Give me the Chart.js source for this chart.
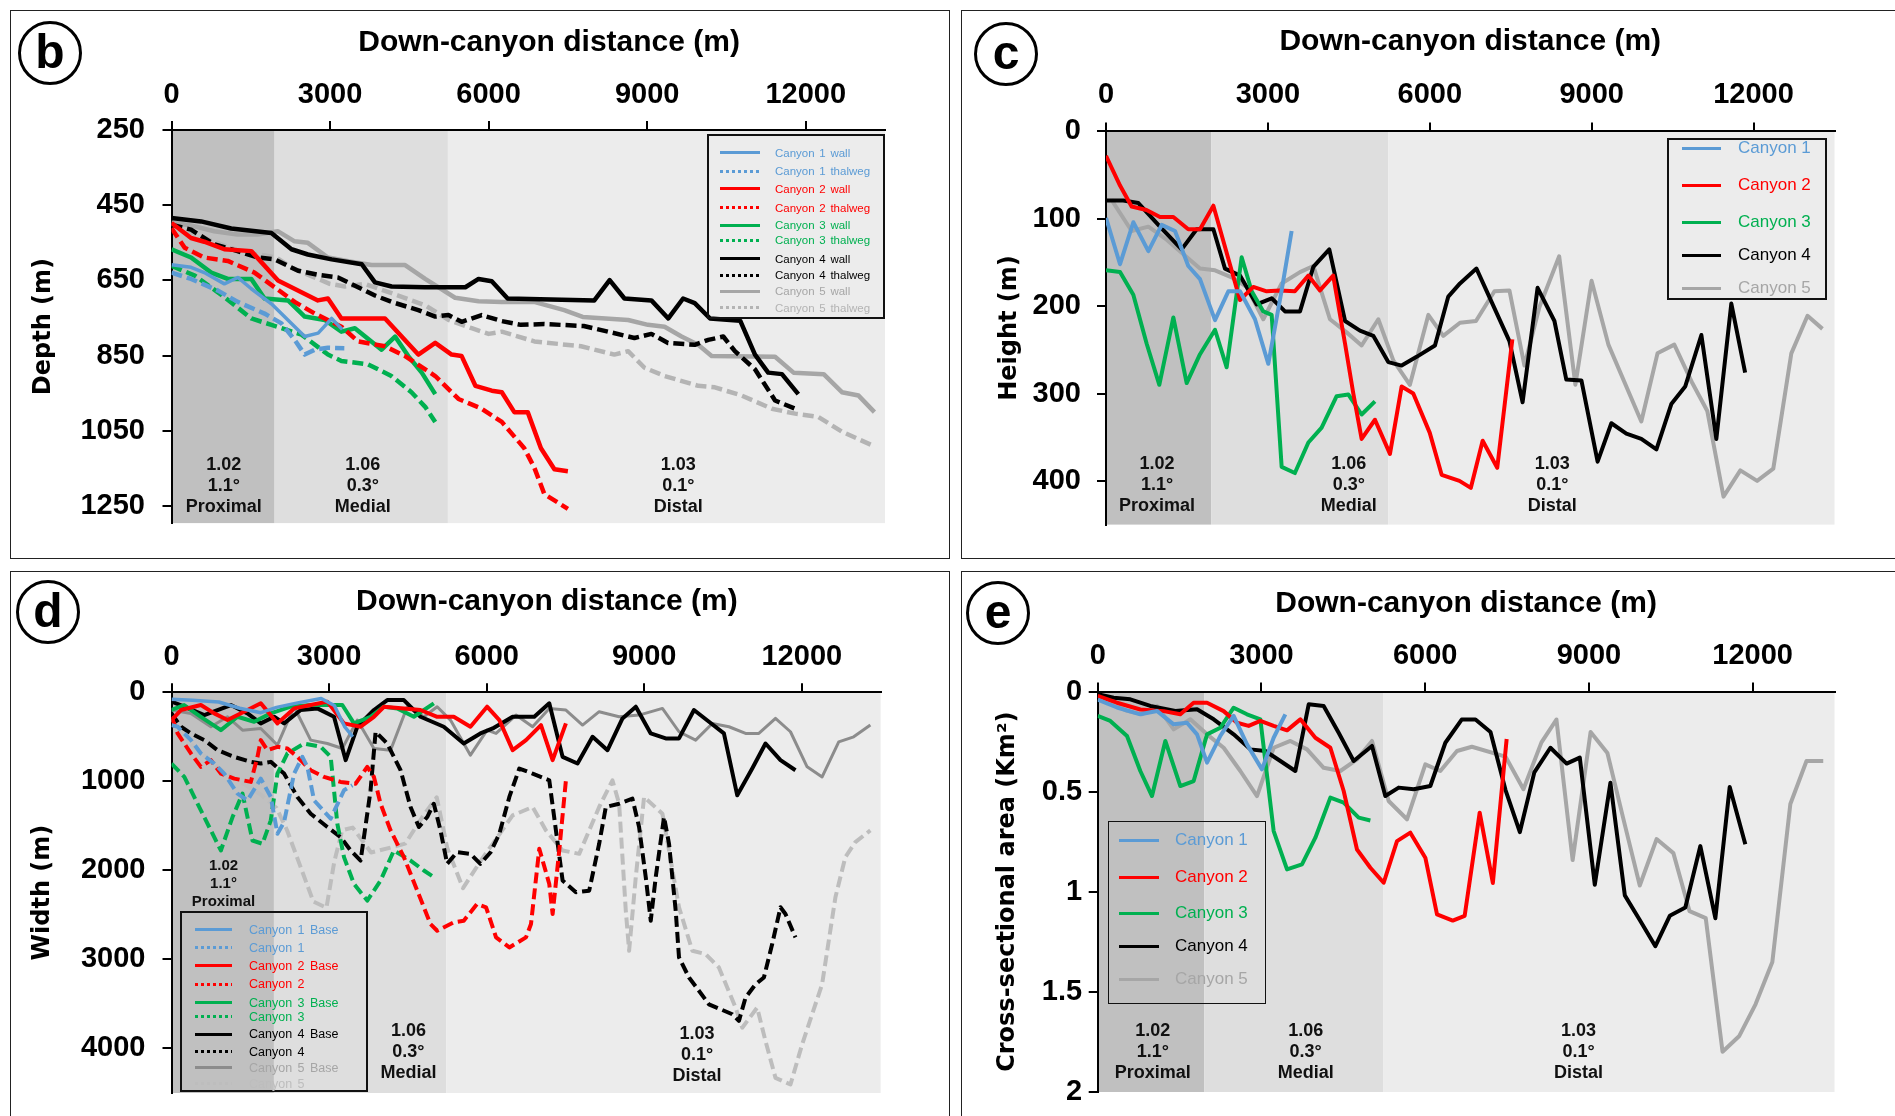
<!DOCTYPE html>
<html>
<head>
<meta charset="UTF-8">
<title>Canyon profiles</title>
<script src="https://cdn.jsdelivr.net/npm/chart.js"></script>
<style>
	html, body { margin: 0; padding: 0; background: #fff; overflow: hidden; }
	body { width: 1895px; height: 1116px; position: relative; }
	canvas { position: absolute; }
	.frame { position: absolute; border: 1.5px solid #222; box-sizing: border-box; pointer-events: none; }
	.letter { position: absolute; width: 64px; height: 64px; border: 3px solid #000; border-radius: 50%; box-sizing: border-box;
		font: bold 48px "Liberation Sans", Arial, sans-serif; text-align: center; line-height: 56px; background: #fff; }
	.legend { position: absolute; border: 2px solid #111; box-sizing: border-box; font-family: "Liberation Sans", Arial, sans-serif; }
	.legend .row { position: absolute; left: 0; right: 0; height: 0; }
	.legend .smp { position: absolute; height: 3px; margin-top: -1.5px; }
	.legend .txt { position: absolute; white-space: nowrap; transform: translateY(-50%); }
</style>
</head>
<body>

<div class="frame" style="left:10px; top:10px; width:940px; height:549px;"></div>
<div class="frame" style="left:961px; top:10px; width:960px; height:549px;"></div>
<div class="frame" style="left:10px; top:571px; width:940px; height:600px;"></div>
<div class="frame" style="left:961px; top:571px; width:960px; height:600px;"></div>

<canvas id="chartB" width="939" height="548" style="left:10px; top:10px;"></canvas>
<canvas id="chartC" width="940" height="548" style="left:962px; top:10px;"></canvas>
<canvas id="chartD" width="939" height="560" style="left:10px; top:571px;"></canvas>
<canvas id="chartE" width="940" height="560" style="left:962px; top:571px;"></canvas>

<div class="letter" style="left:18px; top:21px;">b</div>
<div class="letter" style="left:974px; top:22px;">c</div>
<div class="letter" style="left:16px; top:580px;">d</div>
<div class="letter" style="left:966px; top:581px;">e</div>

<script>
	// 공통 축 / 구간
	const xTicks = [0, 3000, 6000, 9000, 12000];
	const xMax = 13500;
	const zoneEdges = [0, 1950, 5230, 13500];
	const zoneRatio = ['1.02', '1.06', '1.03'];
	const zoneSlope = ['1.1°', '0.3°', '0.1°'];
	const zoneNames = ['Proximal', 'Medial', 'Distal'];

	const depthTicks = [250, 450, 650, 850, 1050, 1250];
	const heightTicks = [0, 100, 200, 300, 400];
	const widthTicks = [0, 1000, 2000, 3000, 4000];
	const areaTicks = [0, 0.5, 1, 1.5, 2];

	// (b) depth : [distance, depth]
	const bWall1 = [[0,608],[370,615],[620,629],[1000,659],[1255,642],[1510,672],[1890,712],[2265,764],[2520,799],[2775,790],[3030,751],[3230,780]];
	const bThal1 = [[0,629],[370,646],[880,677],[1255,707],[1760,738],[2080,764],[2330,808],[2520,847],[2710,834],[2960,829],[3270,830]];
	const bWall2 = [[0,497],[370,537],[620,547],[1000,567],[1510,572],[2015,650],[2770,703],[2960,698],[3215,751],[4040,751],[4670,847],[4990,816],[5300,847],[5490,851],[5750,930],[6060,943],[6250,947],[6486,1000],[6740,1000],[6990,1096],[7245,1152],[7500,1157]];
	const bThal2 = [[0,511],[250,563],[620,589],[1065,598],[1570,629],[1950,668],[2330,707],[2710,738],[3215,773],[3530,812],[4040,825],[4420,851],[4990,904],[5430,965],[5870,991],[6250,1026],[6675,1096],[6866,1148],[7055,1218],[7500,1257]];
	const bWall3 = [[0,567],[370,589],[750,629],[1065,646],[1510,646],[1760,698],[2205,703],[2520,746],[2900,755],[3215,786],[3470,777],[3975,834],[4230,799],[4480,851],[4735,895],[4990,952]];
	const bThal3 = [[0,611],[440,637],[1000,694],[1510,751],[1890,768],[2460,794],[2960,847],[3215,864],[3720,873],[4160,904],[4540,947],[4800,986],[4990,1026]];
	const bWall4 = [[0,484],[560,493],[1130,512],[1890,524],[2270,567],[2580,581],[3030,594],[3600,607],[3850,655],[4165,666],[4800,668],[5560,668],[5810,646],[6060,652],[6360,698],[8000,703],[8290,649],[8570,698],[9080,703],[9400,751],[9680,698],[9900,710],[10190,751],[10760,757],[11040,847],[11290,895],[11550,899],[11860,952]];
	const bThal4 = [[0,502],[370,515],[810,554],[1250,572],[1630,589],[1950,594],[2395,624],[2770,635],[3150,642],[3530,668],[3850,690],[4165,707],[4670,729],[4990,746],[5240,742],[5490,760],[5870,742],[6250,758],[6610,768],[7055,766],[7800,771],[8255,786],[8760,803],[9080,792],[9395,816],[9900,821],[10155,808],[10440,799],[10660,838],[11040,886],[11420,969],[11800,991]];
	const bWall5 = [[0,496],[370,504],[810,519],[1250,528],[1630,528],[2010,519],[2330,546],[2580,550],[2960,589],[3400,600],[3785,609],[4420,609],[4800,646],[5365,696],[5810,705],[6250,707],[6860,707],[7430,729],[7780,747],[8640,755],[9015,768],[9330,773],[9650,799],[9965,821],[10220,851],[11420,853],[11770,895],[12340,899],[12685,947],[13000,956],[13300,1000]];
	const bThal5 = [[0,500],[620,537],[1290,572],[1985,589],[2270,616],[2995,659],[3280,666],[3660,659],[4290,690],[4800,716],[5240,755],[5680,777],[6000,792],[6250,786],[6866,812],[7750,825],[8380,847],[8640,838],[8950,882],[9330,904],[9965,930],[10280,934],[10790,956],[11360,991],[11800,1004],[12240,1013],[12685,1052],[13270,1089]];

	// (c) height : [distance, height]
	const cCanyon1 = [[0,99],[260,152],[506,104],[785,137],[1032,107],[1279,114],[1525,154],[1742,169],[2020,216],[2267,183],[2483,183],[2761,215],[3008,266],[3255,182],[3440,114]];
	const cCanyon2 = [[0,28],[260,62],[475,86],[750,90],[1000,98],[1248,98],[1525,112],[1742,112],[1990,85],[2483,193],[2730,178],[2977,183],[3224,182],[3500,183],[3750,165],[3965,182],[4210,165],[4430,243],[4583,300],[4737,352],[4984,330],[5262,369],[5478,292],[5694,300],[6000,345],[6220,393],[6550,400],[6760,408],[6980,354],[7250,385],[7530,238]];
	const cCanyon3 = [[0,159],[260,161],[506,187],[754,243],[988,290],[1248,213],[1495,288],[1742,255],[2020,227],[2236,270],[2514,144],[2700,183],[2915,206],[3070,210],[3255,384],[3500,391],[3750,356],[3996,339],[4274,303],[4490,301],[4737,324],[4984,309]];
	const cCanyon4 = [[0,79],[321,79],[600,82],[1000,109],[1402,135],[1680,112],[1990,112],[2205,157],[2483,165],[2792,198],[3070,191],[3317,206],[3595,206],[3842,155],[4138,135],[4430,217],[4706,228],[4953,234],[5231,264],[5478,268],[5756,258],[6096,245],[6343,189],[6560,174],[6865,157],[7476,240],[7720,310],[7998,179],[8310,217],[8530,284],[8810,285],[9110,378],[9365,334],[9643,346],[9920,352],[10200,364],[10476,312],[10733,292],[11033,233],[11310,352],[11588,197],[11844,276]];
	const cCanyon5 = [[100,78],[475,114],[785,109],[1124,124],[1402,139],[1742,157],[2020,159],[2329,167],[2606,178],[2915,215],[3255,174],[3595,161],[3842,154],[4150,215],[4459,230],[4737,245],[5046,215],[5324,262],[5632,290],[5973,210],[6250,234],[6560,219],[6856,217],[7198,183],[7476,182],[7754,268],[8032,201],[8398,143],[8698,290],[8998,171],[9310,244],[9920,332],[10220,254],[10531,244],[10865,288],[11143,320],[11443,418],[11755,388],[12066,400],[12366,386],[12700,254],[13000,211],[13277,226]];

	// (d) width : [distance, width]
	const dBase1 = [[0,80],[400,90],[900,110],[1300,180],[1700,230],[2000,170],[2400,120],[2850,70],[3100,150],[3300,390],[3450,500]];
	const dTop1 = [[0,370],[117,388],[370,538],[560,688],[814,801],[1004,914],[1257,1139],[1447,1214],[1700,970],[1890,1176],[2017,1589],[2143,1458],[2334,914],[2492,726],[2587,838],[2714,1214],[3031,1420],[3284,1101],[3443,1045]];
	const dBase2 = [[0,313],[180,200],[560,144],[814,238],[1067,313],[1447,200],[1700,125],[2017,350],[2334,182],[2650,144],[2967,106],[3284,350],[3600,388],[3854,276],[4044,163],[4425,182],[4741,200],[5058,276],[5374,276],[5691,388],[6008,163],[6242,313],[6495,651],[6749,538],[7034,369],[7256,763],[7509,350]];
	const dTop2 = [[0,275],[117,463],[370,688],[560,838],[750,763],[940,914],[1194,970],[1510,1007],[1637,726],[1700,538],[1827,651],[2017,613],[2207,632],[2397,726],[2650,876],[2904,951],[3220,1007],[3505,1027],[3727,838],[3854,951],[3980,1252],[4171,1552],[4425,1852],[4678,2227],[4931,2603],[5058,2678],[5374,2584],[5564,2565],[5818,2378],[5989,2415],[6179,2753],[6432,2866],[6749,2753],[6844,2603],[7002,1758],[7192,2153],[7256,2490],[7382,1777],[7509,989]];
	const dBase3 = [[0,200],[240,144],[560,276],[940,426],[1257,276],[1574,332],[1890,238],[2270,163],[2650,144],[3031,144],[3252,144],[3474,350],[3790,276],[4044,163],[4298,182],[4614,276],[4994,125]];
	const dTop3 = [[0,801],[244,951],[560,1327],[940,1777],[1162,1402],[1352,1139],[1542,1665],[1732,1702],[1890,1439],[2017,914],[2207,688],[2524,576],[2840,613],[3031,726],[3157,1477],[3284,1852],[3474,2153],[3727,2340],[3980,2115],[4234,1777],[4551,1890],[4805,2002],[4994,2077]];
	const dBase4 = [[0,106],[244,163],[624,257],[1130,144],[1447,238],[1700,350],[1954,276],[2143,350],[2460,200],[2777,182],[3094,276],[3316,763],[3537,388],[3854,200],[4107,88],[4424,88],[4741,276],[5184,388],[5564,576],[5881,463],[6115,407],[6495,276],[6907,276],[7192,125],[7446,726],[7730,801],[8016,501],[8301,651],[8586,294],[8840,163],[9124,463],[9409,519],[9662,519],[9947,200],[10233,332],[10517,463],[10771,1158],[11056,857],[11309,576],[11594,763],[11879,876]];
	const dTop4 = [[0,238],[180,388],[370,463],[624,538],[877,651],[1194,726],[1510,782],[1700,801],[1890,782],[2143,914],[2397,1176],[2650,1364],[2967,1514],[3220,1627],[3410,1777],[3600,1890],[3664,1627],[3790,1101],[3886,444],[4107,576],[4361,876],[4551,1289],[4710,1514],[4868,1402],[4994,1252],[5121,1552],[5248,1927],[5438,1796],[5691,1815],[5881,1927],[6071,1800],[6242,1589],[6432,1176],[6622,857],[6875,914],[7192,989],[7319,1552],[7446,2115],[7699,2246],[7952,2228],[8142,1702],[8269,1289],[8522,1252],[8775,1195],[8902,1514],[9029,2077],[9124,2565],[9219,2077],[9377,1402],[9472,1702],[9599,2453],[9662,2978],[9852,3203],[10232,3504],[10676,3616],[10802,3691],[10929,3429],[11119,3279],[11278,3203],[11436,2828],[11594,2415],[11689,2490],[11879,2753]];
	const dBase5 = [[0,200],[370,238],[750,388],[1067,276],[1352,426],[1700,407],[2017,594],[2334,163],[2650,538],[2967,576],[3252,632],[3537,313],[3854,632],[4171,651],[4488,163],[4805,276],[5058,163],[5311,313],[5691,707],[6008,426],[6179,463],[6559,257],[6875,388],[7192,182],[7509,200],[7826,369],[8142,219],[8522,276],[8902,257],[9346,182],[9662,444],[9979,538],[10296,351],[10613,388],[10929,463],[11182,463],[11499,294],[11784,444],[12101,838],[12387,951],[12703,557],[12988,501],[13305,369]];
	const dTop5 = [[0,300],[400,600],[900,850],[1300,1000],[1700,1150],[2000,1300],[2200,1550],[2450,1950],[2700,2350],[2950,2420],[3100,1900],[3250,1550],[3450,1520],[3800,1800],[4200,1740],[4450,1700],[4800,1380],[5050,1180],[5250,1750],[5550,2200],[5880,1900],[6115,1702],[6495,1383],[6875,1289],[7129,1552],[7446,1777],[7762,1815],[8142,1289],[8395,989],[8522,1252],[8649,2453],[8712,2903],[8839,2077],[8997,1176],[9346,1364],[9472,1777],[9662,2415],[9916,2903],[10169,2941],[10422,3091],[10739,3541],[10866,3767],[11150,3541],[11309,3917],[11499,4330],[11784,4405],[12006,3954],[12386,3279],[12640,2302],[12829,1852],[13019,1683],[13305,1552]];

	// (e) cross-sectional area : [distance, km2]
	const eCanyon1 = [[0,0.04],[354,0.08],[781,0.114],[1086,0.097],[1392,0.164],[1636,0.156],[1820,0.214],[2003,0.355],[2247,0.222],[2491,0.122],[2735,0.264],[3010,0.389],[3224,0.231],[3438,0.114]];
	const eCanyon2 = [[0,0.022],[354,0.056],[781,0.09],[1209,0.098],[1514,0.114],[1758,0.056],[2003,0.056],[2308,0.098],[2552,0.156],[2766,0.172],[2980,0.147],[3224,0.172],[3469,0.194],[3713,0.139],[3988,0.231],[4263,0.281],[4507,0.497],[4751,0.789],[4996,0.88],[5240,0.955],[5484,0.747],[5728,0.705],[6003,0.83],[6217,1.113],[6505,1.144],[6724,1.12],[6999,0.605],[7240,0.956],[7493,0.237]];
	const eCanyon3 = [[0,0.122],[231,0.147],[537,0.222],[781,0.397],[995,0.522],[1239,0.247],[1514,0.472],[1758,0.447],[2003,0.214],[2247,0.181],[2491,0.081],[2735,0.114],[2980,0.139],[3224,0.697],[3469,0.888],[3743,0.863],[3988,0.73],[4263,0.53],[4507,0.555],[4782,0.63],[4996,0.644]];
	const eCanyon4 = [[0,0.014],[292,0.031],[598,0.039],[964,0.072],[1422,0.097],[1820,0.089],[2125,0.139],[2491,0.214],[2797,0.289],[3071,0.297],[3347,0.347],[3621,0.397],[3866,0.064],[4140,0.072],[4415,0.206],[4690,0.347],[5026,0.272],[5270,0.522],[5515,0.48],[5790,0.488],[6095,0.472],[6370,0.256],[6669,0.14],[6922,0.14],[7197,0.202],[7471,0.491],[7735,0.702],[8000,0.404],[8295,0.281],[8592,0.36],[8833,0.33],[9108,0.965],[9394,0.456],[9658,1.018],[9932,1.141],[10218,1.272],[10482,1.12],[10767,1.079],[11042,0.772],[11317,1.132],[11580,0.477],[11866,0.763]];
	const eCanyon5 = [[109,0.04],[537,0.097],[811,0.114],[1086,0.072],[1392,0.189],[1697,0.139],[2003,0.214],[2308,0.281],[2613,0.397],[2919,0.522],[3224,0.281],[3530,0.247],[3835,0.289],[4140,0.381],[4446,0.397],[4751,0.339],[5026,0.247],[5331,0.547],[5667,0.638],[6003,0.364],[6278,0.397],[6583,0.297],[6856,0.276],[7471,0.325],[7801,0.488],[8131,0.254],[8405,0.14],[8702,0.842],[9031,0.202],[9339,0.307],[9636,0.641],[9932,0.969],[10240,0.737],[10548,0.807],[10844,1.097],[11141,1.132],[11449,1.799],[11756,1.72],[12053,1.562],[12361,1.351],[12691,0.562],[12987,0.347],[13294,0.347]];

	// 스타일
	const FONT = '"Liberation Sans", Arial, sans-serif';
	const YFONT = '"DejaVu Sans", Verdana, sans-serif';
	const COL = { 1: '#5b9bd5', 2: '#ff0000', 3: '#00b050', 4: '#000000', 5: '#a6a6a6' };
	const zoneFill = ['#c0c0c0', '#dedede', '#ececec'];

	function series(label, pts, color, dashed, width) {
		return {
			label: label,
			data: pts.map(p => ({ x: p[0], y: p[1] })),
			borderColor: color,
			borderWidth: width,
			borderDash: dashed ? [11, 5] : [],
			borderCapStyle: 'butt',
			borderJoinStyle: 'round',
			pointRadius: 0,
			tension: 0,
			fill: false
		};
	}

	// 구간 배경 + 구간 라벨
	const zonePlugin = {
		id: 'zones',
		beforeDraw(chart, args, opts) {
			const { ctx, chartArea: a, scales: { x } } = chart;
			ctx.save();
			for (let i = 0; i < zoneNames.length; i++) {
				const x0 = x.getPixelForValue(zoneEdges[i]);
				const x1 = x.getPixelForValue(zoneEdges[i + 1]);
				ctx.fillStyle = zoneFill[i];
				ctx.fillRect(x0, a.top, x1 - x0, a.bottom - a.top);
			}
			ctx.restore();
		},
		afterDatasetsDraw(chart, args, opts) {
			const { ctx, chartArea: a, scales: { x } } = chart;
			ctx.save();
			ctx.fillStyle = '#111';
			ctx.textAlign = 'center';
			ctx.textBaseline = 'middle';
			opts.labels.forEach((lab, i) => {
				ctx.font = 'bold ' + (lab.size || 18) + 'px ' + FONT;
				const cx = x.getPixelForValue(lab.x);
				const lines = [zoneRatio[i], zoneSlope[i], zoneNames[i]];
				lines.forEach((t, j) => ctx.fillText(t, cx, a.bottom - lab.lift + j * (lab.gap || 21)));
			});
			ctx.restore();
		}
	};

	function makeChart(id, p) {
		return new Chart(document.getElementById(id), {
			type: 'line',
			data: { datasets: p.series },
			options: {
				responsive: false,
				animation: false,
				devicePixelRatio: 1,
				layout: { padding: { left: 0, top: 0, right: p.padR, bottom: p.padB } },
				plugins: {
					legend: { display: false },
					tooltip: { enabled: false },
					zones: { labels: p.zoneLabels }
				},
				scales: {
					x: {
						type: 'linear',
						position: 'top',
						min: 0,
						max: xMax,
						afterFit: s => { s.height = p.xH; },
						afterBuildTicks: s => { s.ticks = xTicks.map(v => ({ value: v })); },
						ticks: {
							padding: p.xTickPad, color: '#000', autoSkip: false, maxRotation: 0,
							font: { family: FONT, size: 29, weight: 'bold' },
							callback: v => String(v)
						},
						grid: { display: true, drawOnChartArea: false, drawTicks: true, tickLength: 9, color: '#000', lineWidth: 2 },
						border: { display: true, color: '#000', width: 2 },
						title: {
							display: true, text: p.xTitle, color: '#000',
							font: { family: FONT, size: 30, weight: 'bold' },
							padding: { top: p.xTitlePad, bottom: 0 }
						}
					},
					y: {
						type: 'linear',
						position: 'left',
						reverse: true,
						min: p.yMin,
						max: p.yMax,
						afterFit: s => { s.width = p.yW; },
						afterBuildTicks: s => { s.ticks = p.yTicks.map(v => ({ value: v })); },
						ticks: {
							padding: p.yTickPad, color: '#000', autoSkip: false,
							font: { family: FONT, size: 29, weight: 'bold' },
							callback: v => String(v)
						},
						grid: { display: true, drawOnChartArea: false, drawTicks: true, tickLength: 9, color: '#000', lineWidth: 2 },
						border: { display: true, color: '#000', width: 2 },
						title: {
							display: true, text: p.yTitle, color: '#000',
							font: { family: YFONT, size: 24, weight: 'bold' },
							padding: { top: p.yTitlePad, bottom: 0 }
						}
					}
				}
			},
			plugins: [zonePlugin]
		});
	}

	// 범례 (HTML)
	function makeLegend(L, sers) {
		const box = document.createElement('div');
		box.className = 'legend';
		Object.assign(box.style, { left: L.left + 'px', top: L.top + 'px', width: L.w + 'px', height: L.h + 'px', borderWidth: L.bw + 'px' });
		sers.forEach((s, i) => {
			const row = document.createElement('div');
			row.className = 'row';
			row.style.top = L.rows[i] + 'px';
			const smp = document.createElement('div');
			smp.className = 'smp';
			smp.style.left = L.s0 + 'px';
			smp.style.width = (L.s1 - L.s0) + 'px';
			const c = s.borderColor;
			smp.style.background = s.borderDash.length
				? 'repeating-linear-gradient(to right, ' + c + ' 0 3px, transparent 3px 6px)'
				: c;
			const txt = document.createElement('div');
			txt.className = 'txt';
			txt.style.left = L.tx + 'px';
			txt.style.top = '0px';
			txt.style.color = s.legendColor || c;
			txt.style.fontSize = L.fs + 'px';
			txt.style.wordSpacing = (L.ws || 0) + 'px';
			txt.textContent = s.label;
			row.appendChild(smp);
			row.appendChild(txt);
			box.appendChild(row);
		});
		document.body.appendChild(box);
	}

	const xTitleText = 'Down-canyon distance (m)';
	const shifted = '\u00a0\u00a0\u00a0\u00a0\u00a0' + xTitleText;

	// (b)
	const seriesB = [
		series('Canyon 1 wall', bWall1, COL[1], false, 3.5),
		series('Canyon 1 thalweg', bThal1, COL[1], true, 4.5),
		series('Canyon 2 wall', bWall2, COL[2], false, 4.5),
		series('Canyon 2 thalweg', bThal2, COL[2], true, 4.5),
		series('Canyon 3 wall', bWall3, COL[3], false, 4.5),
		series('Canyon 3 thalweg', bThal3, COL[3], true, 4.5),
		series('Canyon 4 wall', bWall4, COL[4], false, 4.5),
		series('Canyon 4 thalweg', bThal4, COL[4], true, 4.5),
		series('Canyon 5 wall', bWall5, COL[5], false, 4.5),
		series('Canyon 5 thalweg', bThal5, '#b4b4b4', true, 4.5)
	];
	makeChart('chartB', {
		series: seriesB, padR: 64, padB: 29.5, xH: 120, yW: 161.5,
		xTickPad: 8.7, xTitlePad: 15, yTickPad: 17.5, yTitlePad: 19.6,
		xTitle: shifted, yTitle: 'Depth (m)', yMin: 250, yMax: 1295, yTicks: depthTicks,
		zoneLabels: [{ x: 990, lift: 58 }, { x: 3620, lift: 58 }, { x: 9590, lift: 58 }]
	});
	makeLegend({ left: 707, top: 134, w: 178, h: 185, bw: 2, s0: 11, s1: 51, tx: 66, fs: 11.5, ws: 1.5,
		rows: [16.7, 35, 52.7, 71.7, 89, 104, 122.7, 139, 155, 171.7] }, seriesB);

	// (c)
	const seriesC = [
		series('Canyon 1', cCanyon1, COL[1], false, 4),
		series('Canyon 2', cCanyon2, COL[2], false, 4),
		series('Canyon 3', cCanyon3, COL[3], false, 4),
		series('Canyon 4', cCanyon4, COL[4], false, 4),
		series('Canyon 5', cCanyon5, COL[5], false, 4)
	];
	makeChart('chartC', {
		series: seriesC, padR: 67.5, padB: 28.4, xH: 121.4, yW: 144,
		xTickPad: 10.1, xTitlePad: 13.8, yTickPad: 16, yTitlePad: 33.6,
		xTitle: xTitleText, yTitle: 'Height (m)', yMin: 0, yMax: 450, yTicks: heightTicks,
		zoneLabels: [{ x: 947, lift: 60.6 }, { x: 4500, lift: 60.6 }, { x: 8270, lift: 60.6 }]
	});
	makeLegend({ left: 1667, top: 137.5, w: 160, h: 162, bw: 2, s0: 13, s1: 52, tx: 69, fs: 17,
		rows: [8.5, 45.5, 82.5, 115.5, 148.5] }, seriesC);

	// (d)
	const seriesD = [
		series('Canyon 1 Base', dBase1, COL[1], false, 3.5),
		series('Canyon 1', dTop1, COL[1], true, 4),
		series('Canyon 2 Base', dBase2, COL[2], false, 4),
		series('Canyon 2', dTop2, COL[2], true, 4),
		series('Canyon 3 Base', dBase3, COL[3], false, 4),
		series('Canyon 3', dTop3, COL[3], true, 4),
		series('Canyon 4 Base', dBase4, COL[4], false, 4),
		series('Canyon 4', dTop4, COL[4], true, 4),
		series('Canyon 5 Base', dBase5, '#8c8c8c', false, 3),
		series('Canyon 5', dTop5, '#bdbdbd', true, 4)
	];
	seriesD[8].legendColor = COL[5];
	makeChart('chartD', {
		series: seriesD, padR: 68.4, padB: 38, xH: 121.2, yW: 161.5,
		xTickPad: 9.1, xTitlePad: 13, yTickPad: 17, yTitlePad: 18.2,
		xTitle: shifted, yTitle: 'Width (m)', yMin: 0, yMax: 4500, yTicks: widthTicks,
		zoneLabels: [{ x: 990, lift: 227, size: 15, gap: 18 }, { x: 4510, lift: 62 }, { x: 10005, lift: 59 }]
	});
	makeLegend({ left: 180, top: 911, w: 188, h: 181, bw: 2, s0: 13, s1: 50, tx: 67, fs: 12.5, ws: 2,
		rows: [16.6, 34.5, 52.8, 71.4, 89.7, 103.8, 121.3, 138.9, 154.7, 170.5] }, seriesD);

	// (e)
	const seriesE = [
		series('Canyon 1', eCanyon1, COL[1], false, 4),
		series('Canyon 2', eCanyon2, COL[2], false, 4),
		series('Canyon 3', eCanyon3, COL[3], false, 4),
		series('Canyon 4', eCanyon4, COL[4], false, 4),
		series('Canyon 5', eCanyon5, COL[5], false, 4)
	];
	makeChart('chartE', {
		series: seriesE, padR: 67.5, padB: 39, xH: 120.5, yW: 135.7,
		xTickPad: 9.3, xTitlePad: 14.7, yTickPad: 6.6, yTitlePad: 31.6,
		xTitle: xTitleText, yTitle: 'Cross-sectional area (Km²)', yMin: 0, yMax: 2, yTicks: areaTicks,
		zoneLabels: [{ x: 1010, lift: 61.4 }, { x: 3811, lift: 61.4 }, { x: 8811, lift: 61.4 }]
	});
	makeLegend({ left: 1108, top: 821, w: 158, h: 183, bw: 1.5, s0: 10, s1: 50, tx: 66, fs: 17,
		rows: [18, 55, 91, 124, 157] }, seriesE);
</script>
</body>
</html>
